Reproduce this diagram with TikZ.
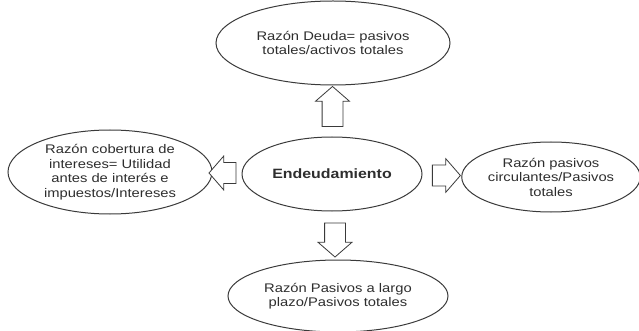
\documentclass[tikz,border=0pt]{standalone}
\usepackage{fontspec}
\setmainfont{Liberation Sans}[FakeStretch=1.18]
\usepackage{xcolor}
\usepackage{tikz}
\usetikzlibrary{shapes.geometric,shapes.arrows,positioning,calc}
\definecolor{pline}{HTML}{3A3A3A}
\definecolor{ptext}{HTML}{2E2E2E}
\tikzset{
  ratio/.style={ellipse,draw=pline,line width=1pt,inner sep=0pt,
                text=ptext,align=center,font=\fontsize{12.5}{14.5}\selectfont},
  fatarrow/.style={single arrow,draw=pline,line width=0.8pt,fill=white,
                   inner xsep=0pt,inner ysep=10pt,minimum width=0pt,
                   single arrow head extend=6.5pt,single arrow tip angle=98}
}
\begin{document}
\begin{tikzpicture}[x=1pt,y=-1pt]
  \useasboundingbox (0,0) rectangle (639,331);
  \node[ratio,minimum width=180pt,minimum height=74pt,
        font=\fontsize{13.5}{15}\selectfont\bfseries] (end) at (332,174) {Endeudamiento};
  \node[ratio,minimum width=234pt,minimum height=84pt] (deuda) at (333,43) {
    Razón Deuda= pasivos\\totales/activos totales
  };
  \node[ratio,minimum width=204pt,minimum height=84pt] (cob) at (110,172) {
    Razón cobertura de\\intereses= Utilidad\\antes de interés e\\impuestos/Intereses
  };
  \node[ratio,minimum width=178pt,minimum height=70pt] (circ) at (551,177) {
    Razón pasivos\\circulantes/Pasivos\\totales
  };
  \node[ratio,minimum width=220pt,minimum height=72pt] (largo) at (338,296) {
    Razón Pasivos a largo\\plazo/Pasivos totales
  };
  \node[fatarrow,rotate=90,minimum height=40pt] (up) at ($(end.north)!0.5!(deuda.south)$) {};
  \node[fatarrow,rotate=-90,minimum height=34pt] (dn) at ($(end.south)!0.5!(largo.north)$) {};
  \node[fatarrow,rotate=180,minimum height=27pt] (lt) at ($(end.west)!0.5!(cob.east)$) {};
  \node[fatarrow,minimum height=28pt] (rt) at ($(end.east)!0.5!(circ.west)$) {};
\end{tikzpicture}
\end{document}
